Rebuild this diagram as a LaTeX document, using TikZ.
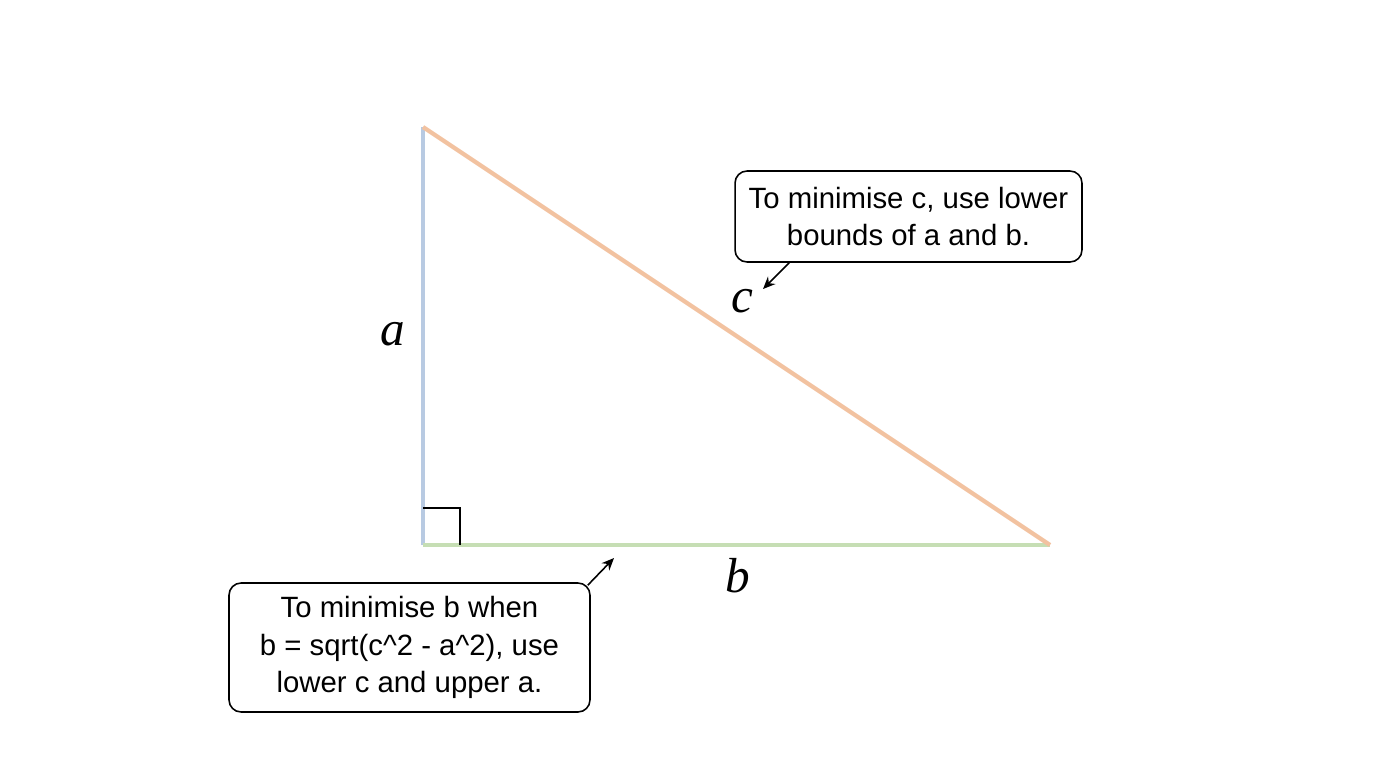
\documentclass[tikz,border=0pt]{standalone}
\usepackage{amsmath}
\usepackage{fontspec}
\setmainfont{Liberation Sans}
\newfontfamily\letterfont{Liberation Serif}
\usepackage{tikz}
\usetikzlibrary{arrows,arrows.meta,shapes,positioning,calc}
\definecolor{sidea}{RGB}{184,202,226}
\definecolor{sideb}{RGB}{198,222,180}
\definecolor{sidec}{RGB}{242,194,160}

\begin{document}
\begin{tikzpicture}[x=0.02cm, y=-0.02cm,
    side/.style={line width=2.4pt},
    callout/.style={rectangle, draw=black, line width=0.9pt, fill=white,
                    rounded corners=0.24cm, align=center, inner sep=0pt,
                    font=\fontsize{16.7}{21.4}\selectfont},
    pointer/.style={-{Stealth[length=7pt,width=6pt]}, line width=0.9pt},
    letter/.style={font=\letterfont\itshape\fontsize{28}{33}\selectfont}
  ]
    \useasboundingbox (0,0) rectangle (1376,768);

    \coordinate (top) at (423,127);
    \coordinate (corner) at (423,545);
    \coordinate (right) at (1050,545);

    \draw[side, sidea] (corner) -- (top);
    \draw[side, sideb] (corner) -- (right);
    \draw[side, sidec] (top) -- (right);
    \draw[line width=0.6pt] (423,508) -| (460,545);

    \node[letter] (la) at (393,334) {a};
    \node[letter] (lb) at (738,576) {b};
    \node[letter] (lc) at (742,301) {c};

    \node[callout, minimum width=6.94cm, minimum height=1.82cm] (cbox) at (908.5,216.5)
        {To minimise c, use lower\\bounds of a and b.};
    \node[callout, minimum width=7.22cm, minimum height=2.58cm] (bbox) at (409.5,647.5)
        {To minimise b when\\b = sqrt(c\^{}2 - a\^{}2), use\\lower c and upper a.};

    \coordinate (ctip) at (763,289);
    \coordinate (btip) at (614,558);

    \draw[pointer] ($(cbox.south west)+(55,0)$) -- (ctip);
    \draw[pointer] ($(bbox.north east)+(-3,3)$) -- (btip);
  \end{tikzpicture}
\end{document}
